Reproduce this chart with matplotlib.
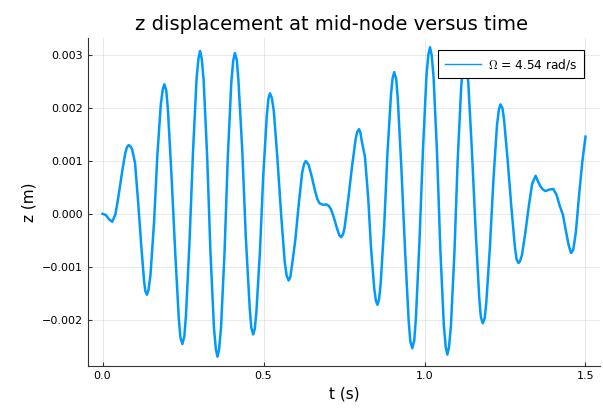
import matplotlib
matplotlib.use("Agg")
import matplotlib.pyplot as plt
from matplotlib.ticker import FuncFormatter

# time (s) and z displacement (in 1e-3 m)
t = [0.000, 0.010, 0.020, 0.030, 0.040, 0.050, 0.061, 0.071, 0.076, 0.081,
     0.086, 0.092, 0.101, 0.110, 0.120, 0.129, 0.133, 0.138, 0.143, 0.149,
     0.160, 0.170, 0.181, 0.187, 0.192, 0.198, 0.203, 0.214, 0.226, 0.237,
     0.242, 0.248, 0.254, 0.259, 0.270, 0.281, 0.292, 0.298, 0.303, 0.308,
     0.314, 0.325, 0.335, 0.346, 0.352, 0.357, 0.362, 0.368, 0.379, 0.389,
     0.400, 0.406, 0.411, 0.417, 0.422, 0.434, 0.445, 0.457, 0.462, 0.468,
     0.473, 0.478, 0.489, 0.499, 0.510, 0.515, 0.520, 0.526, 0.532, 0.543,
     0.555, 0.566, 0.572, 0.578, 0.583, 0.589, 0.599, 0.610, 0.620, 0.626,
     0.631, 0.640, 0.650, 0.659, 0.667, 0.674, 0.685, 0.695, 0.703, 0.710,
     0.718, 0.727, 0.735, 0.741, 0.747, 0.752, 0.763, 0.775, 0.786, 0.791,
     0.797, 0.801, 0.805, 0.815, 0.825, 0.834, 0.844, 0.849, 0.854, 0.859,
     0.864, 0.875, 0.885, 0.896, 0.901, 0.906, 0.912, 0.917, 0.928, 0.940,
     0.951, 0.956, 0.962, 0.968, 0.973, 0.984, 0.995, 1.006, 1.012, 1.017,
     1.022, 1.028, 1.039, 1.049, 1.060, 1.066, 1.071, 1.076, 1.082, 1.093,
     1.103, 1.114, 1.120, 1.125, 1.131, 1.136, 1.147, 1.159, 1.170, 1.175,
     1.181, 1.187, 1.192, 1.203, 1.214, 1.225, 1.231, 1.236, 1.242, 1.247,
     1.258, 1.270, 1.281, 1.286, 1.292, 1.297, 1.303, 1.313, 1.324, 1.334,
     1.345, 1.352, 1.360, 1.368, 1.376, 1.388, 1.400, 1.410, 1.420, 1.430,
     1.440, 1.448, 1.455, 1.462, 1.470, 1.480, 1.490, 1.500]
z_mm = [0.00, -0.02, -0.10, -0.15, -0.01, 0.35, 0.80, 1.16, 1.26, 1.30,
        1.28, 1.22, 0.96, 0.27, -0.58, -1.27, -1.46, -1.53, -1.43, -1.15,
        -0.16, 1.08, 2.07, 2.35, 2.45, 2.33, 1.98, 0.75, -0.76, -1.99,
        -2.34, -2.46, -2.32, -1.93, -0.55, 1.17, 2.55, 2.94, 3.08, 2.94,
        2.53, 1.08, -0.70, -2.15, -2.56, -2.70, -2.56, -2.15, -0.72, 1.06,
        2.49, 2.90, 3.04, 2.91, 2.53, 1.20, -0.44, -1.77, -2.15, -2.28,
        -2.17, -1.84, -0.70, 0.70, 1.84, 2.17, 2.28, 2.19, 1.94, 1.06,
        -0.04, -0.92, -1.17, -1.26, -1.20, -0.95, -0.48, 0.22, 0.78, 0.94,
        1.00, 0.93, 0.70, 0.46, 0.28, 0.20, 0.17, 0.18, 0.15, 0.08,
        -0.06, -0.25, -0.40, -0.44, -0.39, -0.25, 0.27, 0.90, 1.41, 1.55,
        1.60, 1.53, 1.38, 1.08, 0.31, -0.65, -1.42, -1.64, -1.72, -1.61,
        -1.30, -0.20, 1.16, 2.26, 2.57, 2.68, 2.55, 2.18, 0.88, -0.74,
        -2.04, -2.41, -2.54, -2.40, -2.00, -0.57, 1.18, 2.61, 3.01, 3.15,
        3.01, 2.60, 1.14, -0.65, -2.11, -2.52, -2.66, -2.52, -2.12, -0.72,
        1.01, 2.41, 2.81, 2.95, 2.83, 2.47, 1.22, -0.34, -1.59, -1.95,
        -2.07, -1.97, -1.67, -0.64, 0.64, 1.67, 1.97, 2.07, 2.00, 1.78,
        1.03, 0.11, -0.64, -0.86, -0.93, -0.89, -0.77, -0.36, 0.15, 0.56,
        0.72, 0.62, 0.52, 0.46, 0.43, 0.46, 0.47, 0.36, 0.15, -0.02,
        -0.35, -0.60, -0.74, -0.68, -0.35, 0.35, 0.98, 1.46]
z = [v * 1e-3 for v in z_mm]

legend_label = r"$\Omega$ = 4.54 rad/s"
xticks = [0.0, 0.5, 1.0, 1.5]
yticks = [-0.002, -0.001, 0.0, 0.001, 0.002, 0.003]

plt.rcParams["mathtext.fontset"] = "cm"

fig = plt.figure(figsize=(6.03, 4.08), dpi=100)
ax = fig.add_axes([0.146, 0.103, 0.849, 0.804])

ax.plot(t, z, color="#009AFA", linewidth=1.8, label=legend_label)

ax.set_xlim(-0.045, 1.545)
ax.set_ylim(-2.876e-3, 3.326e-3)
ax.set_xticks(xticks)
ax.set_yticks(yticks)
ax.xaxis.set_major_formatter(FuncFormatter(lambda v, p: f"{v:.1f}"))
ax.yaxis.set_major_formatter(
    FuncFormatter(lambda v, p: f"{round(v, 6):.3f}".replace("-", "\u2212")))

ax.grid(True, color="black", alpha=0.1, linewidth=0.6)
ax.spines["top"].set_visible(False)
ax.spines["right"].set_visible(False)
for s in ("left", "bottom"):
    ax.spines[s].set_color("#333333")
ax.tick_params(direction="in", length=3, labelsize=8, colors="#333333",
               labelcolor="black")

ax.set_xlabel("t (s)", fontsize=11)
ax.set_ylabel("z (m)", fontsize=11)
ax.set_title("z displacement at mid-node versus time", fontsize=14, x=0.475)

leg = ax.legend(loc="upper right", bbox_to_anchor=(0.969, 0.963),
                borderaxespad=0, fontsize=8.7, fancybox=False,
                edgecolor="black", framealpha=1, handlelength=3.0,
                borderpad=0.55, handletextpad=0.6)
leg.get_frame().set_linewidth(0.8)
leg.legend_handles[0].set_linewidth(1.0)

fig.savefig("out.png", dpi=100)
